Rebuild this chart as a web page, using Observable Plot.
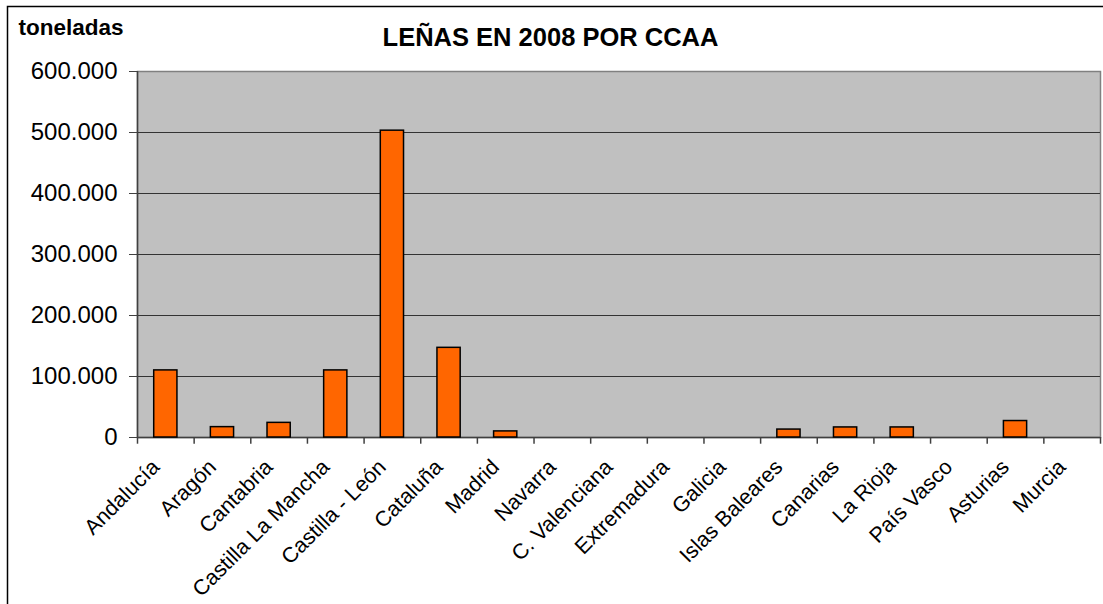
<!DOCTYPE html>
<html>
<head>
<meta charset="utf-8">
<script src="https://cdn.jsdelivr.net/npm/d3@7"></script>
<script src="https://cdn.jsdelivr.net/npm/@observablehq/plot@0.6"></script>
<style>
  html, body { margin: 0; padding: 0; background: #fff; }
</style>
</head>
<body>
<div id="chart"></div>
<script>
const titleText = "LEÑAS EN 2008 POR CCAA";
const unitLabel = "toneladas";
const categories = ["Andalucía","Aragón","Cantabria","Castilla La Mancha","Castilla - León","Cataluña","Madrid","Navarra","C. Valenciana","Extremadura","Galicia","Islas Baleares","Canarias","La Rioja","País Vasco","Asturias","Murcia"];
const values = [110000, 17000, 24000, 110000, 503000, 147000, 10000, 0, 0, 0, 0, 13000, 16500, 16500, 0, 27000, 0];
const yTicks = [0, 100000, 200000, 300000, 400000, 500000, 600000];

const data = categories.map((c, i) => ({cat: c, value: values[i]}));
const locale = d3.formatLocale({decimal: ",", thousands: ".", grouping: [3], currency: ["", "€"]});
const fmt = locale.format(",.0f");

const W = 1103, H = 604, mL = 137, mR = 3, mT = 71, mB = 167;
const step = (W - mL - mR) / categories.length;

const chart = Plot.plot({
  width: W, height: H,
  marginLeft: mL, marginRight: mR, marginTop: mT, marginBottom: mB,
  style: {fontFamily: "'Liberation Sans', Arial, sans-serif", background: "#fff", color: "#000", overflow: "visible"},
  x: {type: "band", domain: categories, paddingInner: 0.59, paddingOuter: 0.295, round: false, axis: null},
  y: {domain: [0, 600000], axis: null},
  marks: [
    Plot.frame({fill: "#C0C0C0", stroke: "#808080", strokeWidth: 1.5}),
    Plot.ruleY(yTicks.filter(t => t > 0 && t < 600000), {stroke: "#333", strokeWidth: 1}),
    Plot.ruleY([0], {stroke: "#404040", strokeWidth: 1.5}),
    Plot.ruleX([categories[0]], {x: d => d, y1: 0, y2: 600000, dx: -step / 2, stroke: "#404040", strokeWidth: 1.5}),
    Plot.ruleX(categories, {x: d => d, y1: 0, y2: -11000, dx: -step / 2, stroke: "#404040", strokeWidth: 1.5}),
    Plot.ruleX([categories[categories.length - 1]], {x: d => d, y1: 0, y2: -11000, dx: step / 2, stroke: "#404040", strokeWidth: 1.5}),
    Plot.axisY({ticks: yTicks, tickFormat: fmt, tickSize: 8, tickPadding: 12, fontSize: 24, stroke: "#404040", label: null}),
    Plot.barY(data.filter(d => d.value > 0), {x: "cat", y: "value", fill: "#FF6600", stroke: "#000", strokeWidth: 1.5}),
    Plot.text(categories, {x: d => d, frameAnchor: "bottom", rotate: -45, textAnchor: "end", lineAnchor: "middle", fontSize: 21.5, dx: -10, dy: 26}),
    Plot.text([titleText], {frameAnchor: "top-left", dx: 550 - mL, dy: -44, textAnchor: "middle", fontSize: 25.5, fontWeight: "bold"}),
    Plot.text([unitLabel], {frameAnchor: "top-left", dx: 18 - mL, dy: -52, textAnchor: "start", fontSize: 22.5, fontWeight: "bold"})
  ]
});

d3.select(chart).append("rect")
  .attr("x", 7.5).attr("y", 6.5).attr("width", 1200).attr("height", 700)
  .attr("fill", "none").attr("stroke", "#000").attr("stroke-width", 1.5);

document.getElementById("chart").appendChild(chart);
</script>
</body>
</html>
